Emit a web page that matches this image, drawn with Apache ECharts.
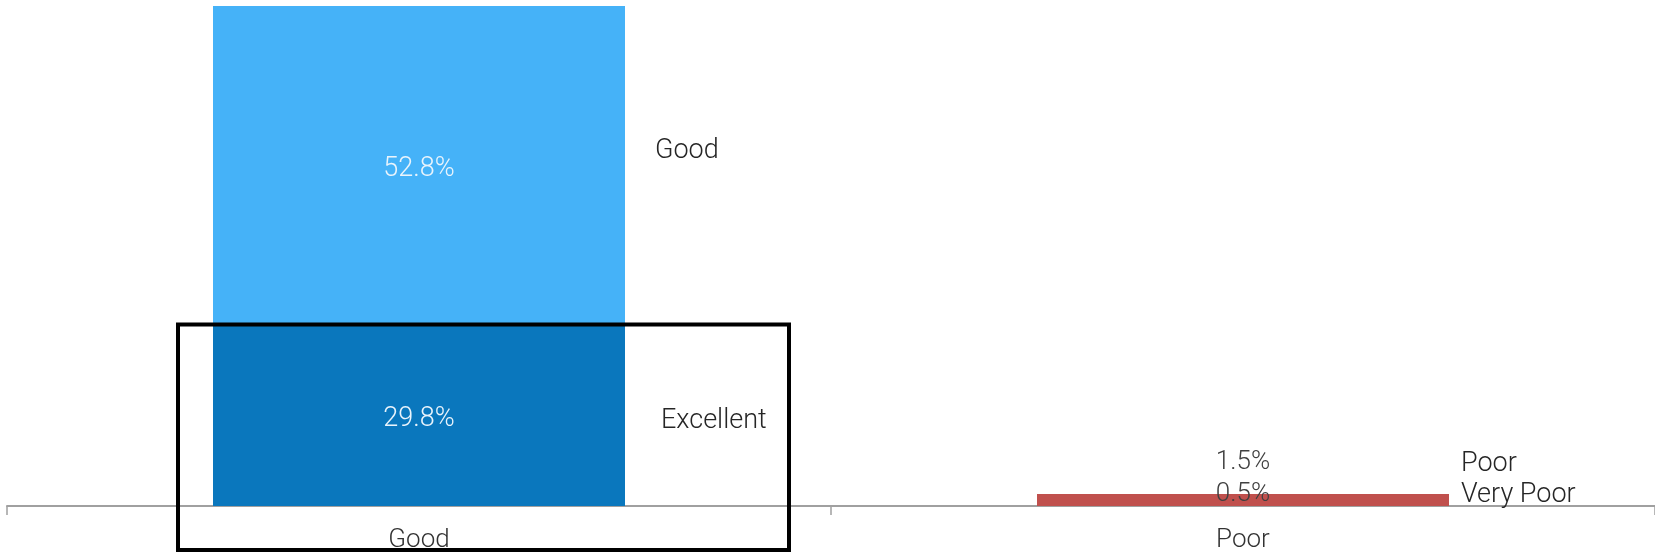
<!DOCTYPE html>
<html>
<head>
<meta charset="utf-8">
<script src="https://cdn.jsdelivr.net/npm/echarts@6/dist/echarts.min.js"></script>
<style>
html,body{margin:0;padding:0;background:#fff;}
#main{width:1655px;height:556px;}
</style>
</head>
<body>
<div id="main"></div>
<script>
const categories = ['Good', 'Poor'];
const excellent = [29.8, null];
const good = [52.8, null];
const veryPoor = [null, 0.5];
const poor = [null, 1.5];
const seriesNames = ['Excellent', 'Good', 'Very Poor', 'Poor'];
const colors = ['#0A77BD', '#45B2F8', '#C0504D', '#C0504D'];

const FONT = 'Roboto';
const totals = categories.map((c, i) =>
  [excellent, good, veryPoor, poor].reduce((s, arr) => s + (arr[i] || 0), 0));
const yMax = Math.max(...totals);

const chart = echarts.init(document.getElementById('main'), null, {renderer: 'canvas'});

const dataArrs = [excellent, good, veryPoor, poor];
const valueLabel = [
  {color: '#EAF4FC', offset: [0, 3], size: 27},
  {color: '#EAF4FC', offset: [0, 3], size: 27},
  {color: '#404040', offset: [0, -10], size: 26},
  {color: '#404040', offset: [0, -36], size: 26}
];
const nameLabel = [
  {distance: 36, offset: [0, 5]},
  {distance: 30, offset: [0, -15]},
  {distance: 12, offset: [0, -9]},
  {distance: 12, offset: [0, -34]}
];

const series = [];
dataArrs.forEach((arr, k) => {
  series.push({
    name: seriesNames[k],
    type: 'bar',
    stack: 'total',
    xAxisIndex: 0,
    barWidth: '50%',
    data: arr,
    itemStyle: {color: colors[k]},
    label: {
      show: true,
      position: 'inside',
      formatter: p => p.value.toFixed(1) + '%',
      color: valueLabel[k].color,
      offset: valueLabel[k].offset,
      fontFamily: FONT,
      fontWeight: 300,
      fontSize: valueLabel[k].size
    },
    emphasis: {disabled: true}
  });
});
dataArrs.forEach((arr, k) => {
  series.push({
    name: seriesNames[k],
    type: 'bar',
    stack: 'names',
    xAxisIndex: 1,
    barWidth: '50%',
    data: arr,
    itemStyle: {color: 'rgba(0,0,0,0)'},
    label: {
      show: true,
      position: 'right',
      formatter: '{a}',
      distance: nameLabel[k].distance,
      offset: nameLabel[k].offset,
      color: '#262626',
      fontFamily: FONT,
      fontWeight: 300,
      fontSize: 27
    },
    emphasis: {disabled: true},
    silent: true
  });
});

chart.setOption({
  animation: false,
  backgroundColor: '#ffffff',
  grid: {left: 7, right: 0, top: 6, bottom: 50, containLabel: false},
  xAxis: [
    {
      type: 'category',
      data: categories,
      axisLine: {show: true, lineStyle: {color: '#A0A0A0', width: 2}},
      axisTick: {show: true, length: 9, lineStyle: {color: '#A0A0A0', width: 1.5}},
      axisLabel: {margin: 21, color: '#333333', fontFamily: FONT, fontWeight: 300, fontSize: 26}
    },
    {
      type: 'category',
      data: categories,
      show: false
    }
  ],
  yAxis: {
    type: 'value', min: 0, max: yMax, show: false,
    splitLine: {show: false}
  },
  series: series
});

// Highlight box around the "Excellent" segment of the "Good" category
const topPt = chart.convertToPixel({xAxisIndex: 0, yAxisIndex: 0}, [categories[0], excellent[0]]);
const basePt = chart.convertToPixel({xAxisIndex: 0, yAxisIndex: 0}, [categories[0], 0]);
chart.setOption({
  graphic: [{
    type: 'rect',
    shape: {x: topPt[0] - 241, y: topPt[1] - 1, width: 611, height: basePt[1] - topPt[1] + 45},
    style: {fill: 'none', stroke: '#000000', lineWidth: 4},
    z: 100
  }]
});
</script>
</body>
</html>
